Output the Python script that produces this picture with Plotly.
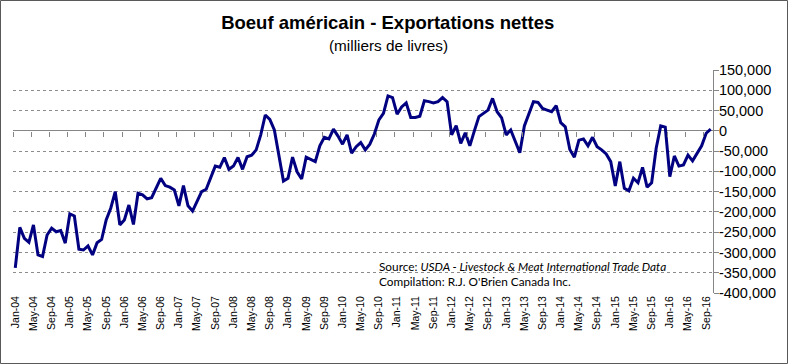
import plotly.graph_objects as go

# Net exports, thousands of lbs
month_abbr = ["Jan", "Feb", "Mar", "Apr", "May", "Jun", "Jul", "Aug", "Sep", "Oct", "Nov", "Dec"]
years = list(range(2004, 2017))

v2004 = [-338, -238, -265, -275, -232, -306, -310, -257, -240, -249, -246, -277]
v2005 = [-205, -210, -292, -294, -284, -306, -276, -268, -220, -191, -150, -232]
v2006 = [-220, -183, -231, -154, -158, -168, -165, -142, -117, -135, -139, -146]
v2007 = [-185, -135, -185, -198, -175, -150, -144, -117, -87, -90, -66, -95]
v2008 = [-87, -66, -95, -64, -60, -47, -10, 39, 28, 2, -64, -124]
v2009 = [-117, -65, -101, -119, -65, -70, -76, -37, -16, -20, 4, -13]
v2010 = [-33, -10, -55, -39, -29, -47, -33, -8, 27, 43, 86, 82]
v2011 = [41, 59, 69, 33, 33, 36, 74, 72, 69, 72, 82, 72]
v2012 = [-10, 13, -31, -5, -37, 0, 35, 43, 51, 80, 47, 32]
v2013 = [-10, 2, -27, -54, 12, 43, 72, 70, 55, 51, 47, 62]
v2014 = [20, 10, -46, -65, -23, -20, -37, -16, -39, -47, -57, -76]
v2015 = [-136, -76, -142, -148, -117, -128, -90, -139, -128, -43, 12, 9]
v2016 = [-113, -62, -87, -84, -60, -74, -57, -37, -6, 4]

values_k = (v2004 + v2005 + v2006 + v2007 + v2008 + v2009 + v2010 + v2011
            + v2012 + v2013 + v2014 + v2015 + v2016)
values = [v * 1000 for v in values_k]

categories = [f"{m}-{str(y)[2:]}" for y in years for m in month_abbr][:len(values)]
x_tick_labels = categories[::4]

y_tick_vals = [150000, 100000, 50000, 0, -50000, -100000, -150000, -200000,
               -250000, -300000, -350000, -400000]
y_tick_text = ["150,000", "100,000", "50,000", "0", "-50,000", "-100,000", "-150,000",
               "-200,000", "-250,000", "-300,000", "-350,000", "-400,000"]

title_text = "Boeuf américain - Exportations nettes"
subtitle_text = "(milliers de livres)"
source_text = "Source: <i>USDA - Livestock & Meat International Trade Data</i>"
compil_text = "Compilation: R.J. O'Brien Canada Inc."

W, H = 788, 364
ML, MR, MT, MB = 13, 75, 70, 71
PW, PH = W - ML - MR, H - MT - MB

def px_x(px):
    return (px - ML) / PW

def px_y(py):
    return (H - MB - py) / PH

regular = "Liberation Sans, Arial"
grey = "#868686"

n = len(categories)
boundary_ticks = [-0.5 + 4 * k for k in range(n // 4 + 2) if -0.5 + 4 * k <= n - 0.5]

fig = go.Figure()
fig.add_trace(go.Scatter(x=categories, y=values, mode="lines",
                         line=dict(color="#000080", width=3),
                         showlegend=False, hoverinfo="x+y"))
fig.add_trace(go.Scatter(x=[], y=[], xaxis="x2", showlegend=False, hoverinfo="skip"))

fig.update_layout(
    width=W, height=H,
    margin=dict(l=ML, r=MR, t=MT, b=MB, autoexpand=False),
    paper_bgcolor="white", plot_bgcolor="white",
    showlegend=False,
    title=dict(text=f"<b>{title_text}</b>", x=0.492, xanchor="center",
               y=1 - 23 / H, yanchor="middle",
               font=dict(family=regular, size=18.5, color="black")),
    xaxis=dict(type="category", range=[-0.5, n - 0.5],
               tickmode="array", tickvals=x_tick_labels, ticktext=x_tick_labels,
               tickangle=-90, ticks="", showgrid=False, showline=False, zeroline=False,
               automargin=False,
               tickfont=dict(family=regular, size=10.5, color="black")),
    xaxis2=dict(overlaying="x", anchor="free", position=400 / 550,
                range=[-0.5, n - 0.5], tickmode="array", tickvals=boundary_ticks,
                ticks="outside", ticklen=5, tickcolor=grey, showticklabels=False,
                showgrid=False, zeroline=False, showline=False),
    yaxis=dict(side="right", range=[-400000, 150000],
               tickmode="array", tickvals=y_tick_vals, ticktext=y_tick_text,
               showgrid=True, gridcolor="#8c8c8c", griddash="dot", gridwidth=1,
               zeroline=True, zerolinecolor=grey, zerolinewidth=1,
               showline=True, linecolor=grey, linewidth=1,
               ticks="outside", ticklen=5, tickcolor=grey, automargin=False,
               ticklabelstandoff=-3,
               tickfont=dict(family=regular, size=14.5, color="black")),
    annotations=[
        dict(text=subtitle_text, xref="paper", yref="paper",
             x=px_x(388), y=px_y(46), xanchor="center", yanchor="middle",
             showarrow=False, font=dict(family=regular, size=15.3, color="black")),
        dict(text=source_text, xref="paper", yref="paper",
             x=px_x(377), y=px_y(266), xanchor="left", yanchor="middle",
             showarrow=False, font=dict(family="Lato, Open Sans", size=11.8, color="black")),
        dict(text=compil_text, xref="paper", yref="paper",
             x=px_x(377), y=px_y(281), xanchor="left", yanchor="middle",
             showarrow=False, font=dict(family="Lato, Open Sans", size=11.8, color="black")),
    ],
    shapes=[
        dict(type="rect", xref="paper", yref="paper",
             x0=px_x(0.5), x1=px_x(787.5), y0=px_y(363.5), y1=px_y(0.5),
             line=dict(color="#595959", width=1), fillcolor="rgba(0,0,0,0)", layer="below"),
    ],
)

fig.write_html("out.html", config={"displayModeBar": False},
               post_script="document.body.style.margin='0';document.body.style.overflow='hidden';")
